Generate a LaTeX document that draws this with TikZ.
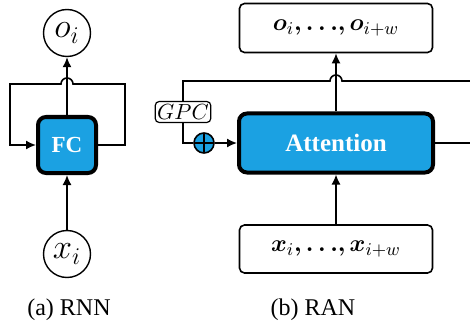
\documentclass[tikz,border=0pt]{standalone}
\usepackage{amsmath}
\usepackage{fontspec}
\setmainfont{Liberation Serif}
\usepackage{tikz}
\usetikzlibrary{arrows.meta}
\definecolor{cellblue}{RGB}{27,161,226}

\begin{document}
\begin{tikzpicture}[x=0.5pt, y=0.5pt,
  cell/.style={draw, line width=2pt, rounded corners=4pt, fill=cellblue, text=white},
  unit/.style={draw, circle, line width=0.7pt, minimum size=23.5pt, inner sep=0pt,
    font=\fontsize{17}{17}\selectfont},
  seqbox/.style={draw, line width=0.8pt, rounded corners=2.5pt, minimum width=96.5pt,
    minimum height=24.5pt, font=\fontsize{12.5}{12.5}\selectfont},
  gpcbox/.style={draw, fill=white, line width=0.6pt, rounded corners=2pt, inner sep=1pt,
    minimum width=25pt, minimum height=10.5pt, font=\fontsize{10.5}{10.5}\selectfont},
  sumnode/.style={draw, circle, fill=cellblue, line width=0.8pt, minimum size=10pt, inner sep=0pt,
    path picture={\draw[line width=0.8pt] (path picture bounding box.north) -- (path picture bounding box.south)
      (path picture bounding box.west) -- (path picture bounding box.east);}},
  link/.style={line width=0.8pt},
  conn/.style={line width=0.8pt, -{Latex[length=5pt, width=4.5pt]}}]
\clip (0, 0) rectangle (470, 327);

% (a) RNN
\node[unit] (o_rnn) at (67, 294) {$o_i$};
\node[cell, minimum width=29pt, minimum height=28pt, font=\bfseries\fontsize{11.5}{11.5}\selectfont] (fc) at (67, 182) {FC};
\node[unit] (x_rnn) at (67, 73) {$x_i$};
\draw[conn] (x_rnn) -- (fc);
\draw[conn] (fc) -- (o_rnn);
\draw[link, -{Latex[length=5pt, width=4.5pt]}] (fc.east) -- (125, 182) -- (125, 243) -- (73, 243)
    arc[start angle=0, end angle=180, radius=6] -- (10, 243) -- (10, 182) -- (fc.west);

% (b) RAN
\node[seqbox] (out_seq) at (336, 299)
    {$\boldsymbol{o}_i\mathpunct{\boldsymbol{,}}\boldsymbol{\ldots}\mathpunct{\boldsymbol{,}}\boldsymbol{o}_{i+w}$};
\node[cell, minimum width=97pt, minimum height=29.5pt, font=\bfseries\fontsize{12.5}{12.5}\selectfont] (att) at (336, 184) {Attention};
\node[seqbox, minimum height=24pt] (in_seq) at (336, 78)
    {$\boldsymbol{x}_i\mathpunct{\boldsymbol{,}}\boldsymbol{\ldots}\mathpunct{\boldsymbol{,}}\boldsymbol{x}_{i+w}$};
\node[sumnode] (gpc_sum) at (204, 184) {};
\node[gpcbox] (gpc) at (183, 215) {$GPC$};
\draw[conn] (in_seq) -- (att);
\draw[conn] (att) -- (out_seq);
\draw[conn] (gpc_sum) -- (att);
\draw[link] (att.east) -- (485, 184) -- (485, 246) -- (342, 246)
    arc[start angle=0, end angle=180, radius=6] -- (183, 246) -- (gpc.north);
\draw[link] (gpc.south) -- (183, 184) -- (gpc_sum.west);

\node[font=\fontsize{12}{12}\selectfont] (cap_a) at (69, 17) {(a) RNN};
\node[font=\fontsize{12}{12}\selectfont] (cap_b) at (313, 17) {(b) RAN};
\end{tikzpicture}
\end{document}
